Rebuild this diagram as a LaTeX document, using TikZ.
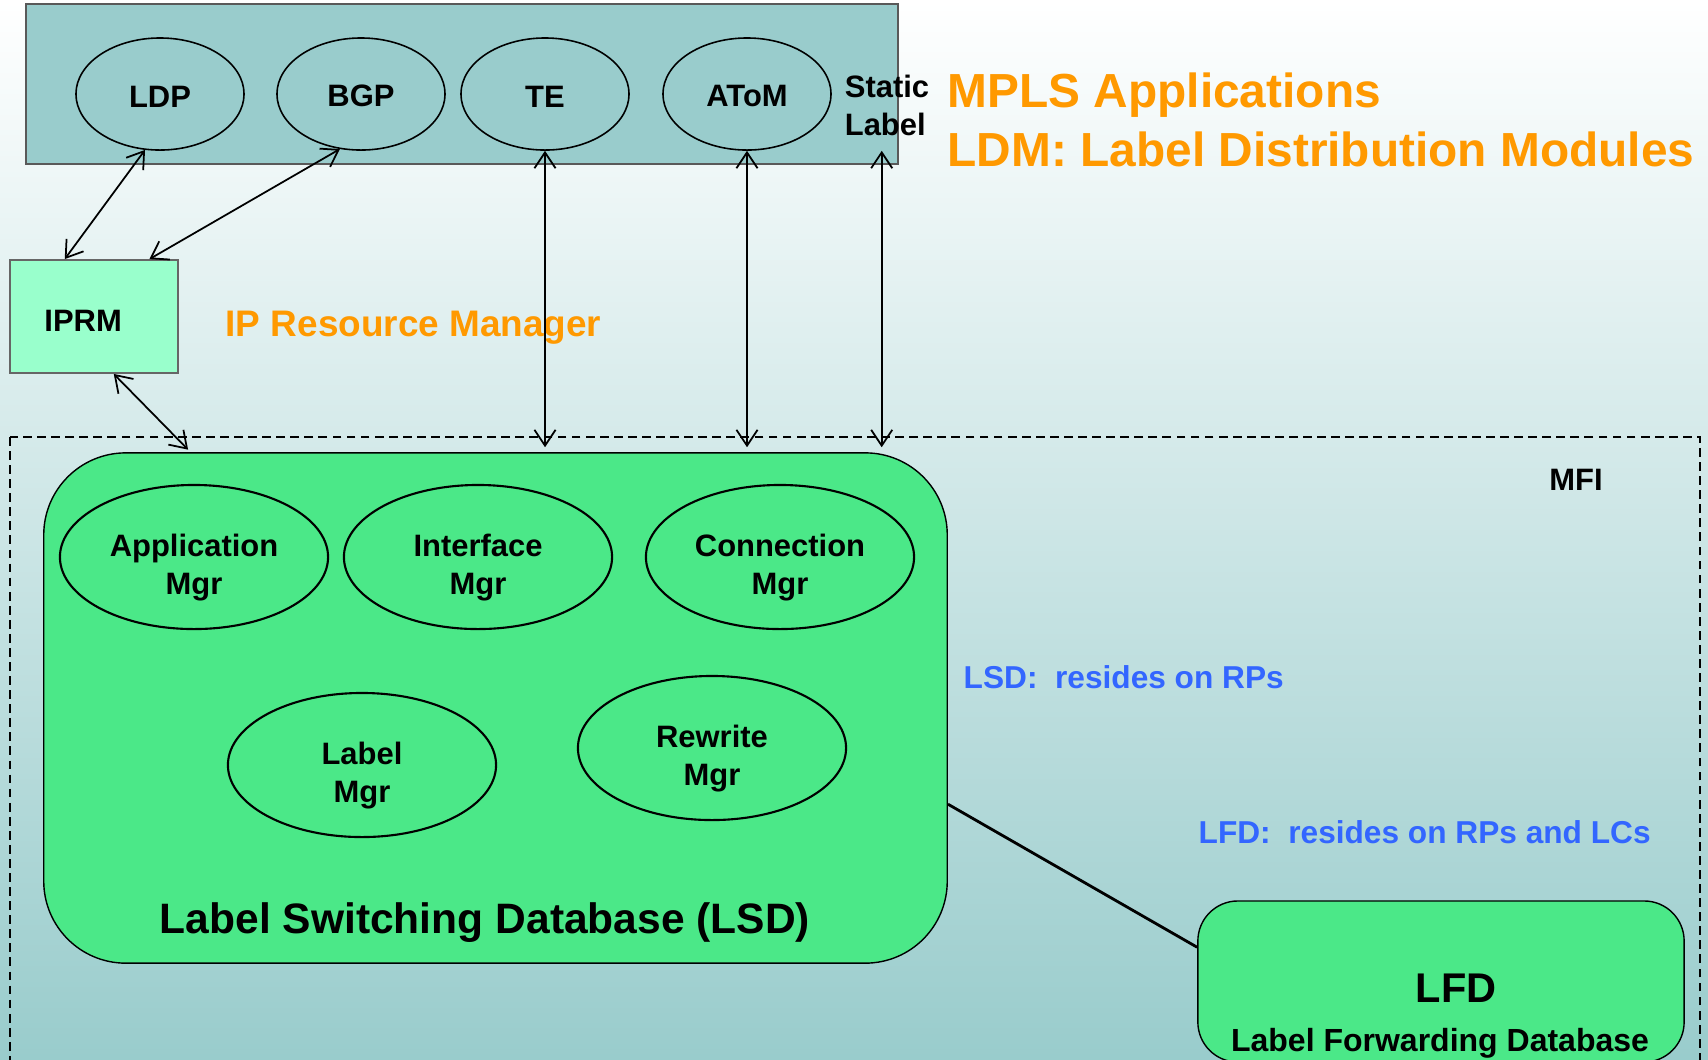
\documentclass[tikz,border=0pt]{standalone}
\usepackage{fontspec}
\setmainfont{Liberation Sans}
\usetikzlibrary{shapes.geometric,arrows.meta,positioning}

\definecolor{appteal}{HTML}{99CCCC}
\definecolor{bgmid}{RGB}{214,235,234}
\definecolor{prmgreen}{HTML}{99FFCC}
\definecolor{lsdgreen}{RGB}{75,232,136}
\definecolor{headorange}{HTML}{FF9900}
\definecolor{noteblue}{RGB}{51,102,255}

\newcommand{\boxfont}{\fontsize{8.8}{10.8}\selectfont\bfseries}
\newcommand{\headfont}{\fontsize{13.6}{16}\selectfont\bfseries}

\tikzset{
  ldm/.style={ellipse,draw,line width=0.45pt,inner sep=0pt,text height=7.4pt,
    minimum width=1.68cm,minimum height=1.12cm,font=\boxfont},
  mgr/.style={ellipse,draw,line width=0.6pt,inner sep=0pt,align=center,
    text height=23.2pt,minimum width=2.68cm,minimum height=1.44cm,font=\boxfont},
  dbbox/.style={draw,line width=0.4pt,fill=lsdgreen,inner sep=0pt},
  plain/.style={inner sep=0pt,font=\boxfont},
  head/.style={inner sep=0pt,anchor=west,text=headorange,font=\headfont},
  note/.style={inner sep=0pt,anchor=west,text=noteblue,
    font=\fontsize{9}{11}\selectfont\bfseries},
  link/.style={<->,line width=0.5pt}
}

\begin{document}
\begin{tikzpicture}[x=0.01cm,y=-0.01cm,>={Straight Barb[length=4.5pt,width=6pt]}]
\useasboundingbox (0,0) rectangle (1708,1059);
\shade[top color=white,middle color=bgmid,bottom color=appteal] (0,0) rectangle (1708,1059);

% label distribution modules
\node[draw=black!65,line width=0.6pt,fill=appteal,inner sep=0pt,
  minimum width=8.72cm,minimum height=1.6cm] (apps) at (462,84) {};
\node[ldm] (ldp) at (160,94) {LDP};
\node[ldm] (bgp) at (361,94) {BGP};
\node[ldm] (te) at (545,94) {TE};
\node[ldm] (atom) at (747,94) {AToM};
\node[plain,align=left] (static) at (887,105) {Static\\Label};
\node[head] (mplstxt) at (947,95) {MPLS Applications};
\node[head] (ldmtxt) at (947,149) {LDM: Label Distribution Modules};

% IP resource manager
\node[draw=black!60,line width=0.5pt,fill=prmgreen,inner sep=0pt,
  minimum width=1.68cm,minimum height=1.13cm,
  label={[plain,xshift=-3.1pt,yshift=-1.2pt]center:IPRM}] (iprm) at (94,316.5) {};
\node[head,font=\fontsize{10.5}{12}\selectfont\bfseries] (iprmtxt) at (225,328) {IP Resource Manager};

% MFI
\draw[line width=0.5pt,dash pattern=on 2.5pt off 1.5pt] (10,437) rectangle (1700,1100);
\node[plain] (mfi) at (1576,480) {MFI};

% label switching database
\node[dbbox,rounded corners=0.82cm,minimum width=9.03cm,minimum height=5.1cm] (lsd) at (495.5,708) {};
\node[mgr] (appmgr) at (194,557) {Application\\Mgr};
\node[mgr] (ifmgr) at (478,557) {Interface\\Mgr};
\node[mgr] (connmgr) at (780,557) {Connection\\Mgr};
\node[mgr] (lblmgr) at (362,765) {Label\\Mgr};
\node[mgr] (rwmgr) at (712,748) {Rewrite\\Mgr};
\node[plain,font=\fontsize{12.1}{14}\selectfont\bfseries] (lsdtxt) at (485,923) {Label Switching Database (LSD)};
\node[note] (lsdnote) at (963,677) {LSD:\ \ resides on RPs};

% label forwarding database
\node[note] (lfdnote) at (1198,832) {LFD:\ \ resides on RPs and LCs};
\node[dbbox,rounded corners=0.4cm,minimum width=4.86cm,minimum height=1.61cm] (lfd) at (1441,981.5) {};
\node[plain,font=\fontsize{11.8}{14}\selectfont\bfseries] (lfdtxt) at (1456,988) {LFD};
\node[plain,font=\fontsize{9.1}{11}\selectfont\bfseries] (lfdsub) at (1440,1043) {Label Forwarding Database};

\draw[line width=0.8pt] (lsd.-12) -- (lfd.172);

% connectors
\draw[link] (ldp.-105) -- (iprm.117);
\draw[link] (bgp.-111) -- (iprm.46);
\draw[link,shorten >=1pt] (iprm.-71) -- (lsd.140);
\draw[link,shorten >=1.4pt] (te.south) -- (te.south |- lsd.north);
\draw[link,shorten >=1.4pt] (atom.south) -- (atom.south |- lsd.north);
\draw[link,shorten >=1.4pt] ([xshift=-1.5pt]static.south |- te.south) -- ([xshift=-1.5pt]static.south |- lsd.north);
\end{tikzpicture}
\end{document}
